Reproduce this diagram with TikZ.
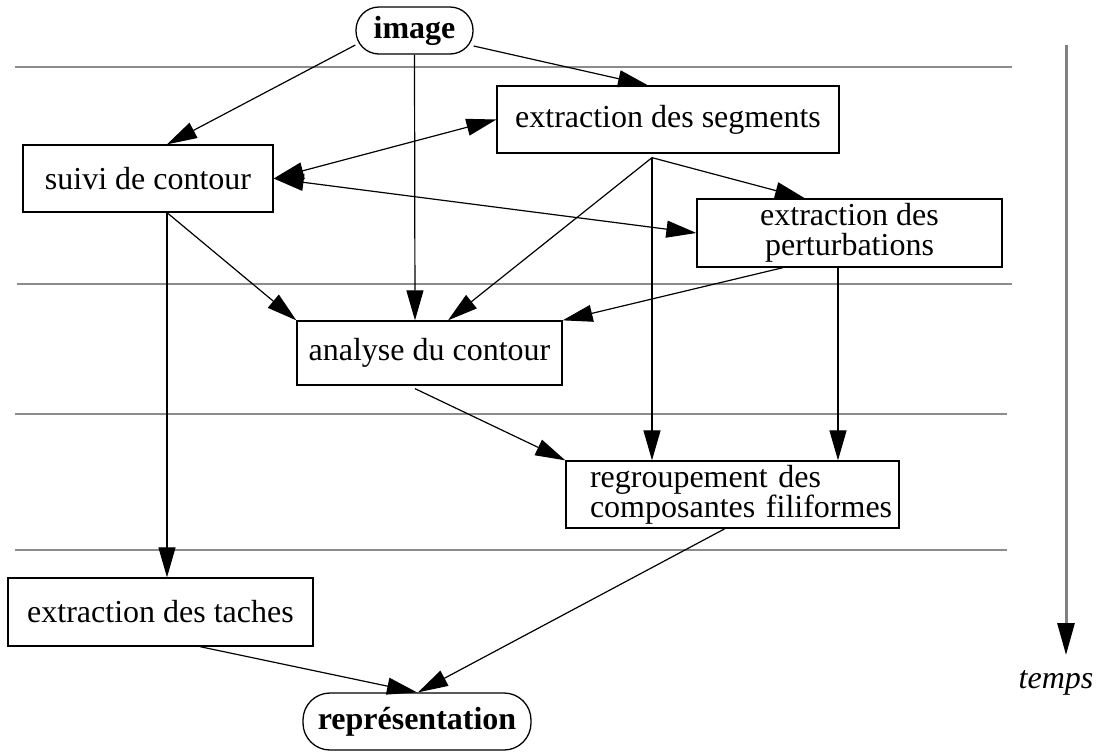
\documentclass[tikz,border=0pt]{standalone}
\usepackage{fontspec}
\setmainfont{Liberation Serif}
\usetikzlibrary{arrows.meta}
\begin{document}
\begin{tikzpicture}[x=1pt,y=-1pt,
  >={Triangle[length=30pt,width=17pt]},
  box/.style={draw,line width=1.3pt,inner sep=0pt,font=\fontsize{32}{30}\selectfont,align=center},
  pill/.style={box,font=\bfseries\fontsize{32}{30}\selectfont},
  link/.style={line width=1.2pt},
  band/.style={draw=black!45,line width=1.3pt},
  timeline/.style={draw=black!50,line width=3pt}]
\useasboundingbox (0,0) rectangle (1104,753);
% grey bands
\draw[band] (15,67) -- (1012,67);
\draw[band] (17,284) -- (1012,284);
\draw[band] (15,414) -- (1007,414);
\draw[band] (15,550) -- (1007,550);
% nodes
\node[pill,rounded corners=23pt,minimum width=117pt,minimum height=47pt] (img) at (414.5,30.5) {image};
\node[box,minimum width=342pt,minimum height=67pt] (seg) at (668,119.5) {extraction des segments};
\node[box,minimum width=250pt,minimum height=67pt] (suivi) at (148,178.5) {suivi de contour};
\node[box,minimum width=305pt,minimum height=68pt] (pert) at (849.5,233) {extraction des\\perturbations};
\node[box,minimum width=265pt,minimum height=64pt] (ana) at (429.5,353) {analyse du contour};
\node[box,text width=333pt,align=left,minimum height=67pt] (reg) at (732.5,494.5) {\hspace*{24pt}regroupement des\\\hspace*{24pt}composantes filiformes};
\node[box,minimum width=305pt,minimum height=68pt] (tach) at (160.5,612) {extraction des taches};
\node[pill,rounded corners=27pt,minimum width=228pt,minimum height=57pt] (rep) at (417,721.5) {représentation};
% connectors
\draw[link,->] ([yshift=-14.5pt]img.west) -- ([xshift=19pt]suivi.north);
\draw[link,->] ([yshift=-15.5pt]img.east) -- ([xshift=-20pt]seg.north);
\draw[link,->] (img.south) -- ([xshift=-14.5pt]ana.north);
\draw[link,<->] (suivi.east) -- (seg.west);
\draw[link,<->] (suivi.east) -- (pert.west);
\draw[link,->] ([xshift=19pt]suivi.south) -- (ana.north west);
\draw[link,->] ([xshift=19pt]suivi.south) -- ([xshift=6.5pt]tach.north);
\draw[link,->] ([xshift=-16pt,yshift=-4pt]seg.south) -- ([xshift=-44.5pt]pert.north);
\draw[link,->] ([xshift=-16pt,yshift=-4pt]seg.south) -- ([xshift=18.5pt]ana.north);
\draw[link,->] ([xshift=-16pt,yshift=-4pt]seg.south) -- ([xshift=-80.5pt]reg.north);
\draw[link,->] ([xshift=-66.5pt]pert.south) -- (ana.north east);
\draw[link,->] ([xshift=-11.5pt]pert.south) -- ([xshift=105.5pt]reg.north);
\draw[link,->] ([xshift=-14.5pt,yshift=-3pt]ana.south) -- (reg.north west);
\draw[link,->] ([xshift=-7.5pt]reg.south) -- ([xshift=1pt]rep.north);
\draw[link,->] ([xshift=39.5pt]tach.south) -- (rep.north);
% time axis
\node[font=\itshape\fontsize{32}{36}\selectfont,anchor=base] (temps) at (1056,688) {temps};
\coordinate (tstart) at (1066,45);
\coordinate (tend) at (1066,655);
\draw[timeline,-{Triangle[length=32pt,width=17pt,color=black]}] (tstart) -- (tend);
\end{tikzpicture}
\end{document}
